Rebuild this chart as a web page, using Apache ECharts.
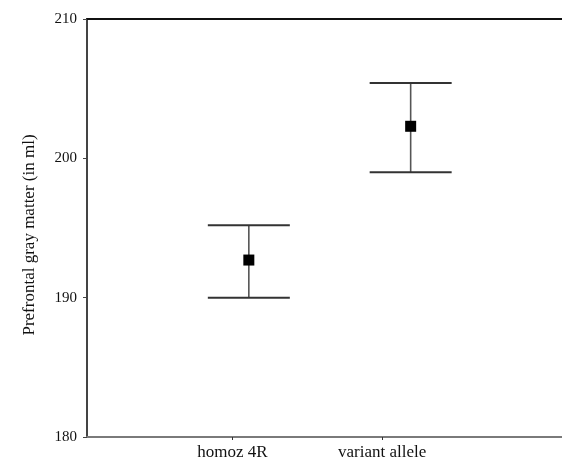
<!DOCTYPE html>
<html>
<head>
<meta charset="utf-8">
<script src="https://cdn.jsdelivr.net/npm/echarts@6/dist/echarts.min.js"></script>
<style>
  html, body { margin: 0; padding: 0; background: #fff; }
  #main { width: 562px; height: 462px; }
</style>
</head>
<body>
<div id="main"></div>
<script>
// groups on the x axis (label positions) and where the marks sit
var categories = ['homoz 4R', 'variant allele'];
var tickPos = [1, 2];
var markPos = [1.11, 2.19];

// means and error bar ends (ml)
var means = [192.7, 202.3];
var lower = [190.0, 199.0];
var upper = [195.2, 205.4];

var yTicks = [180, 190, 200, 210];

var font = 'Liberation Serif';

var myChart = echarts.init(document.getElementById('main'));

var errData = [];
for (var i = 0; i < means.length; i++) {
	errData.push([markPos[i], lower[i], upper[i]]);
}
var meanData = [];
for (var j = 0; j < means.length; j++) {
	meanData.push([markPos[j], means[j]]);
}

var option = {
	animation: false,
	backgroundColor: '#fff',
	grid: { left: 87, top: 19, right: 0, bottom: 25 },
	xAxis: [{
		type: 'value',
		min: 0.03,
		max: 3.2,
		splitLine: { show: false },
		axisLine: { show: true, lineStyle: { color: '#7a7a7a', width: 2 } },
		axisTick: { show: true, customValues: tickPos, length: 3, lineStyle: { color: '#333' } },
		axisLabel: {
			customValues: tickPos,
			margin: 7,
			fontFamily: font,
			fontSize: 17,
			color: '#111',
			formatter: function (v) {
				var k = tickPos.indexOf(v);
				return k >= 0 ? categories[k] : '';
			}
		}
	}, {
		type: 'value',
		position: 'top',
		min: 0.03,
		max: 3.2,
		splitLine: { show: false },
		axisLine: { show: true, lineStyle: { color: '#111', width: 2 } },
		axisTick: { show: false },
		axisLabel: { show: false }
	}],
	yAxis: {
		type: 'value',
		min: yTicks[0],
		max: yTicks[yTicks.length - 1],
		interval: 10,
		splitLine: { show: false },
		axisLine: { show: true, lineStyle: { color: '#444', width: 2 } },
		axisTick: { show: true, length: 4, lineStyle: { color: '#444' } },
		axisLabel: { margin: 10, fontFamily: font, fontSize: 15, color: '#111' }
	},
	graphic: [{
		type: 'text',
		x: 30,
		y: 235,
		rotation: Math.PI / 2,
		style: {
			text: 'Prefrontal gray matter (in ml)',
			fontFamily: font,
			fontSize: 17,
			fill: '#111',
			align: 'center',
			verticalAlign: 'middle'
		}
	}],
	series: [{
		type: 'custom',
		data: errData,
		renderItem: function (params, api) {
			var x = api.value(0);
			var lo = api.coord([x, api.value(1)]);
			var hi = api.coord([x, api.value(2)]);
			var hw = 41;
			return {
				type: 'group',
				children: [{
					type: 'line',
					shape: { x1: lo[0], y1: lo[1], x2: hi[0], y2: hi[1] },
					style: { stroke: '#555', lineWidth: 1.6 }
				}, {
					type: 'line',
					shape: { x1: hi[0] - hw, y1: hi[1], x2: hi[0] + hw, y2: hi[1] },
					style: { stroke: '#333', lineWidth: 2 }
				}, {
					type: 'line',
					shape: { x1: lo[0] - hw, y1: lo[1], x2: lo[0] + hw, y2: lo[1] },
					style: { stroke: '#333', lineWidth: 2 }
				}]
			};
		}
	}, {
		type: 'scatter',
		data: meanData,
		symbol: 'rect',
		symbolSize: 11,
		itemStyle: { color: '#000', opacity: 1 },
		z: 5
	}]
};

myChart.setOption(option);
</script>
</body>
</html>
